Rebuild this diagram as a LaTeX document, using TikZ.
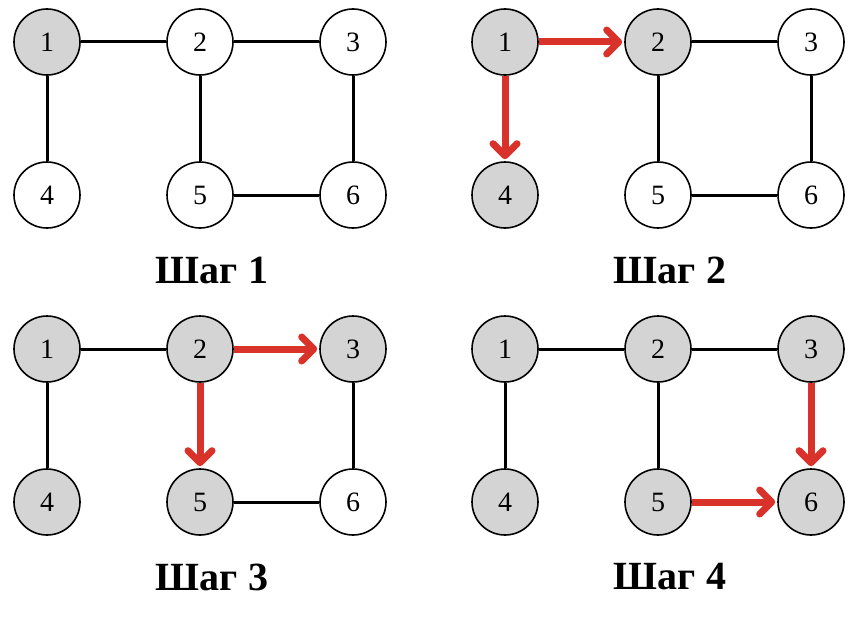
\documentclass[tikz,border=0pt]{standalone}
\usepackage{fontspec}
\setmainfont{Liberation Serif}
\usetikzlibrary{arrows.meta}
\definecolor{gr}{HTML}{D4D4D4}
\definecolor{rd}{HTML}{D8322A}
\tikzset{
 v/.style={circle,draw=black,line width=1.6pt,minimum size=66pt,inner sep=0pt,fill=white,font=\fontsize{28}{28}\selectfont},
 g/.style={v,fill=gr},
 e/.style={line width=3pt},
 a/.style={rd,line width=7pt,-{Straight Barb[round,length=12pt,width=24pt,line width=7pt]},shorten >=2pt},
 lab/.style={font=\fontsize{40}{40}\selectfont\bfseries}
}
\begin{document}
\begin{tikzpicture}[x=1pt,y=-1pt]
\useasboundingbox (0,0) rectangle (864,618);
% panel 1
\begin{scope}
\node[g] (a1) at (47,42) {1}; \node[v] (a2) at (200,42) {2}; \node[v] (a3) at (353,42) {3};
\node[v] (a4) at (47,195) {4}; \node[v] (a5) at (200,195) {5}; \node[v] (a6) at (353,195) {6};
\draw[e] (a1)--(a2) (a2)--(a3) (a1)--(a4) (a2)--(a5) (a3)--(a6) (a5)--(a6);
\node[lab] (la) at (212,270) {Шаг 1};
\end{scope}
% panel 2
\begin{scope}[shift={(458,0)}]
\node[g] (b1) at (47,42) {1}; \node[g] (b2) at (200,42) {2}; \node[v] (b3) at (353,42) {3};
\node[g] (b4) at (47,195) {4}; \node[v] (b5) at (200,195) {5}; \node[v] (b6) at (353,195) {6};
\draw[e] (b2)--(b3) (b2)--(b5) (b3)--(b6) (b5)--(b6);
\draw[a] (b1)--(b2); \draw[a] (b1)--(b4);
\node[lab] (lb) at (212,270) {Шаг 2};
\end{scope}
% panel 3
\begin{scope}[shift={(0,307)}]
\node[g] (c1) at (47,42) {1}; \node[g] (c2) at (200,42) {2}; \node[g] (c3) at (353,42) {3};
\node[g] (c4) at (47,195) {4}; \node[g] (c5) at (200,195) {5}; \node[v] (c6) at (353,195) {6};
\draw[e] (c1)--(c2) (c1)--(c4) (c3)--(c6) (c5)--(c6);
\draw[a] (c2)--(c3); \draw[a] (c2)--(c5);
\node[lab] (lc) at (212,270) {Шаг 3};
\end{scope}
% panel 4
\begin{scope}[shift={(458,307)}]
\node[g] (d1) at (47,42) {1}; \node[g] (d2) at (200,42) {2}; \node[g] (d3) at (353,42) {3};
\node[g] (d4) at (47,195) {4}; \node[g] (d5) at (200,195) {5}; \node[g] (d6) at (353,195) {6};
\draw[e] (d1)--(d2) (d2)--(d3) (d1)--(d4) (d2)--(d5);
\draw[a] (d3)--(d6); \draw[a] (d5)--(d6);
\node[lab] (ld) at (212,270) {Шаг 4};
\end{scope}
\end{tikzpicture}
\end{document}
